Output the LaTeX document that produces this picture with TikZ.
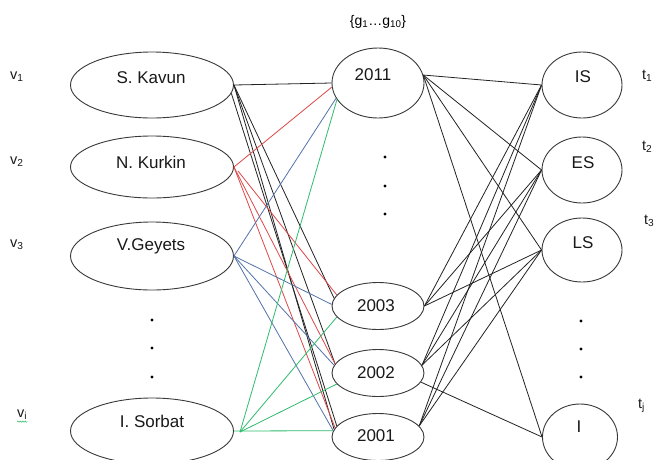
\documentclass[tikz,border=0pt]{standalone}
\usepackage{fontspec}
\setmainfont{Liberation Sans}
\usetikzlibrary{shapes.geometric,decorations.pathmorphing}

\definecolor{lnred}{RGB}{222,72,72}
\definecolor{lnblue}{RGB}{84,114,170}
\definecolor{lngreen}{RGB}{46,188,110}
\definecolor{lnink}{RGB}{35,35,35}

\tikzset{
  oval/.style={draw=lnink!90, line width=0.9pt, ellipse, inner sep=0pt},
  lbl/.style={font=\fontsize{17}{20}\selectfont, text=black!90, anchor=base, inner sep=0pt},
  idx/.style={font=\fontsize{14.5}{16}\selectfont, text=black!90, anchor=base west, inner sep=0pt},
  kline/.style={line width=0.8pt, draw=lnink},
  rline/.style={line width=0.8pt, draw=lnred},
  bline/.style={line width=0.8pt, draw=lnblue},
  gline/.style={line width=0.8pt, draw=lngreen},
  pt/.style={fill=black, draw=none}
}

\begin{document}
\begin{tikzpicture}[x=1pt,y=-1pt]
\useasboundingbox (0,0) rectangle (659,459);
\fill[white] (0,0) rectangle (659,459);

% authors
\node[oval, minimum width=163pt, minimum height=66pt] (kavun)  at (152,85)  {};
\node[oval, minimum width=163pt, minimum height=62pt] (kurkin) at (152,167) {};
\node[oval, minimum width=163pt, minimum height=68pt] (geyets) at (152,256) {};
\node[oval, minimum width=163pt, minimum height=66pt] (sorbat) at (152,431) {};

\node[lbl] (kavunt)  at (151,83)  {S. Kavun};
\node[lbl] (kurkint) at (151,168) {N. Kurkin};
\node[lbl] (geyetst) at (151,250) {V.Geyets};
\node[lbl] (sorbatt) at (152,427) {I. Sorbat};

% years
\node[oval, minimum width=92pt, minimum height=70pt] (y2011) at (378,83)  {};
\node[oval, minimum width=92pt, minimum height=47pt] (y2003) at (378,306) {};
\node[oval, minimum width=92pt, minimum height=47pt] (y2002) at (378,373) {};
\node[oval, minimum width=92pt, minimum height=47pt] (y2001) at (378,437) {};

\node[lbl] (y2011t) at (373,80)  {2011};
\node[lbl] (y2003t) at (376,311) {2003};
\node[lbl] (y2002t) at (376,378) {2002};
\node[lbl] (y2001t) at (376,441) {2001};

% topics
\node[oval, minimum width=80pt, minimum height=66pt] (is)   at (582,85)  {};
\node[oval, minimum width=80pt, minimum height=66pt] (es)   at (582,170) {};
\node[oval, minimum width=80pt, minimum height=64pt] (ls)   at (582,250) {};
\node[oval, minimum width=75pt, minimum height=66pt] (ione) at (580,437) {};

\node[lbl] (ist)   at (583,82)  {IS};
\node[lbl] (est)   at (583,168) {ES};
\node[lbl] (lst)   at (583,248) {LS};
\node[lbl] (ionet) at (579,432) {I};

% side labels
\node[idx] (v1) at (10,79)  {v\textsubscript{1}};
\node[idx] (v2) at (10,164) {v\textsubscript{2}};
\node[idx] (v3) at (10,247) {v\textsubscript{3}};
\node[idx] (vi) at (17,417) {v\textsubscript{i}};
\draw[lngreen, line width=0.5pt, decorate, decoration={snake, amplitude=0.7pt, segment length=2.5pt}]
  ([yshift=-2pt]vi.south west) -- ([yshift=-2pt]vi.south east);

\node[idx] (t1) at (642,79)  {t\textsubscript{1}};
\node[idx] (t2) at (642,150) {t\textsubscript{2}};
\node[idx] (t3) at (644,224) {t\textsubscript{3}};
\node[idx] (tj) at (638,408) {t\textsubscript{j}};

\node[font=\fontsize{14}{16}\selectfont, inner sep=0pt, anchor=base] (gset) at (378,25)
  {\{g\textsubscript{1}…g\textsubscript{10}\}};

% ellipsis dots
\foreach \yy in {320,348,377} \fill[pt] (152,\yy) circle (1.7pt);
\foreach \yy in {157,186,214} \fill[pt] (385,\yy) circle (1.7pt);
\foreach \yy in {321,349,377} \fill[pt] (581,\yy) circle (1.7pt);

% author -> year links
\draw[kline] (kavun.east) -- (y2011.west);
\draw[kline] (kavun.east) -- (y2003.170);
\draw[kline] (kavun.east) -- (y2002.168);
\draw[kline] (kavun.east) -- (y2001.170);
\draw[kline] (kavun.-6)   -- (y2001.165);

\coordinate (kurkinb) at (238,171);
\draw[rline] (kurkin.east) -- (y2011.185);
\draw[rline] (kurkinb)     -- (y2003.165);
\draw[rline] (kurkin.east) -- (y2002.168);
\draw[rline] (kurkin.east) -- (y2001.168);

\draw[bline] (geyets.east) -- (y2011.200);
\draw[bline] (geyets.east) -- (y2003.178);
\draw[bline] (geyets.east) -- (y2002.170);
\draw[bline] (geyets.east) -- (y2001.172);

\coordinate (sorbatv) at (240,432);
\draw[gline] (sorbatv) -- (y2011.202);
\draw[gline] (sorbatv) -- (y2003.195);
\draw[gline] (sorbatv) -- (y2002.195);
\draw[gline] (sorbat.east) -- (y2001.172);

% year -> topic links
\draw[kline] (y2011.10) -- (is.west);
\draw[kline] (y2011.10) -- (es.west);
\draw[kline] (y2011.10) -- (ls.west);
\draw[kline] (y2011.10) -- (ione.west);

\draw[kline] (y2003.east) -- (is.west);
\draw[kline] (y2003.east) -- (es.west);
\draw[kline] (y2003.east) -- (ls.west);

\draw[kline] (y2002.10) -- (is.west);
\draw[kline] (y2002.10) -- (es.west);
\draw[kline] (y2002.10) -- (ls.west);
\draw[kline] (y2002.-12) -- (ione.west);

\draw[kline] (y2001.15) -- (is.west);
\draw[kline] (y2001.15) -- (es.west);
\draw[kline] (y2001.15) -- (ls.west);
\end{tikzpicture}
\end{document}
